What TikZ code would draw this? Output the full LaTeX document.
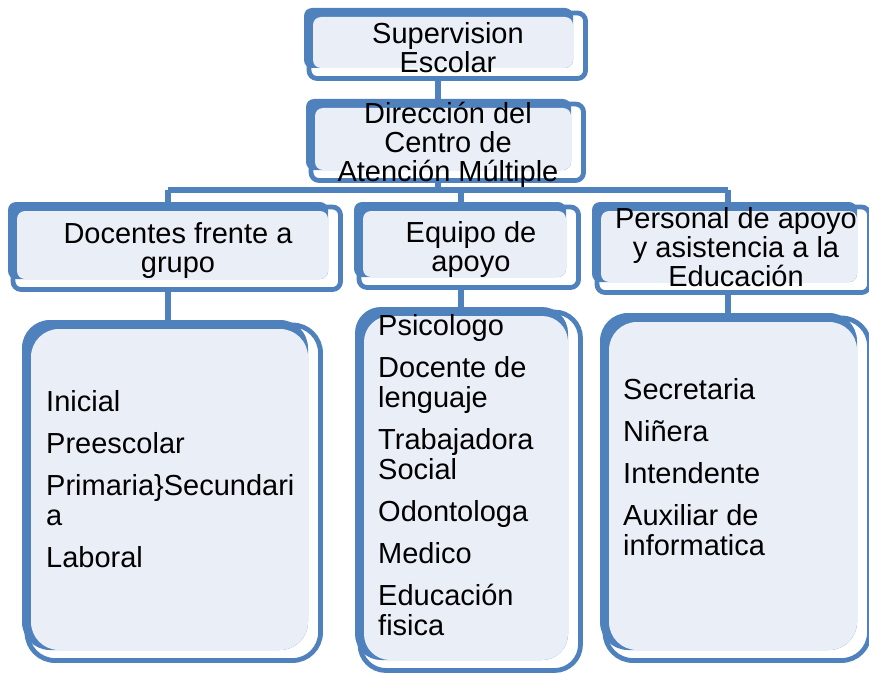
\documentclass[tikz,border=0pt]{standalone}
\usepackage{fontspec}
\setmainfont{Liberation Sans}
\usetikzlibrary{fit,backgrounds}
\definecolor{sablue}{HTML}{4F81BD}
\definecolor{salight}{HTML}{EAEFF7}
\tikzset{
  conn/.style={draw=sablue,line width=5.5pt},
  hdr/.style={inner sep=0pt,align=center,font=\fontsize{29}{29}\selectfont},
  lst/.style={inner sep=0pt,align=left,font=\fontsize{29}{30}\selectfont},
}
% #1 name, #2 x0, #3 y0, #4 x1, #5 y1, #6 corner radius
\newcommand\smartbox[6]{%
  \path[fill=white,draw=sablue,line width=4.8pt,rounded corners=#6pt] ({#2+5},{#3+5}) rectangle ({#4-2.5},{#5-2.5});
  \path[fill=sablue,rounded corners=#6pt] (#2,#3) rectangle ({#4-15},{#5-13});
  \path[fill=salight,rounded corners=#6pt] ({#2+9},{#3+9}) rectangle ({#4-15},{#5-13});
  \node[fit={(#2,#3) (#4,#5)},inner sep=0pt] (#1) {};
}
\begin{document}
\begin{tikzpicture}[x=1pt,y=-1pt]
\clip (0,0) rectangle (869,674);

\smartbox{sup}{304}{8}{588}{81}{8}
\smartbox{dir}{306}{99}{586}{183}{8}
\smartbox{doc}{8}{202}{343}{292}{8}
\smartbox{equ}{354}{202}{581}{290}{8}
\smartbox{per}{592}{202}{872}{295}{8}
\smartbox{doclist}{22}{320}{323}{663}{28}
\smartbox{equlist}{355}{307}{583}{673}{26}
\smartbox{perlist}{600}{313}{872}{663}{28}

\coordinate (jL) at (168,190);
\coordinate (jS) at (438,190);
\coordinate (jM) at (461,190);
\coordinate (jR) at (728,190);

\begin{scope}[on background layer]
  \fill[white] (0,0) rectangle (869,674);
  \draw[conn] (jL) -- (jR);
  \draw[conn] (jS |- sup.south) -- (jS);
  \draw[conn] (jL) -- (jL |- doc.north);
  \draw[conn] (jM) -- (jM |- equ.north);
  \draw[conn] (jR) -- (jR |- per.north);
  \draw[conn] (doc.south -| jL) -- (doclist.north -| jL);
  \draw[conn] (equ.south -| jM) -- (equlist.north -| jM);
  \draw[conn] (per.south -| jR) -- (perlist.north -| jR);
\end{scope}

% anchors are at the baseline of each node's last line
\node[hdr,anchor=base] (tsup) at (448,73) {Supervision\\Escolar};
\node[hdr,anchor=base] (tdir) at (448,181) {Dirección del\\Centro de\\Atención Múltiple};
\node[hdr,anchor=base] (tdoc) at (178,272.5) {Docentes frente a\\grupo};
\node[hdr,anchor=base] (tequ) at (471,271.5) {Equipo de\\apoyo};
\node[hdr,anchor=base] (tper) at (736,286.5) {Personal de apoyo\\y asistencia a la\\Educación};

\node[lst,anchor=base west] (ldoc) at (46,567) {Inicial\\[12pt]Preescolar\\[12pt]Primaria\}Secundari\\a\\[12pt]Laboral};
\node[lst,anchor=base west] (lequ) at (378,635) {Psicologo\\[12pt]Docente de\\lenguaje\\[12pt]Trabajadora\\Social\\[12pt]Odontologa\\[12pt]Medico\\[12pt]Educación\\fisica};
\node[lst,anchor=base west] (lper) at (623,555) {Secretaria\\[12pt]Niñera\\[12pt]Intendente\\[12pt]Auxiliar de\\informatica};
\end{tikzpicture}
\end{document}
